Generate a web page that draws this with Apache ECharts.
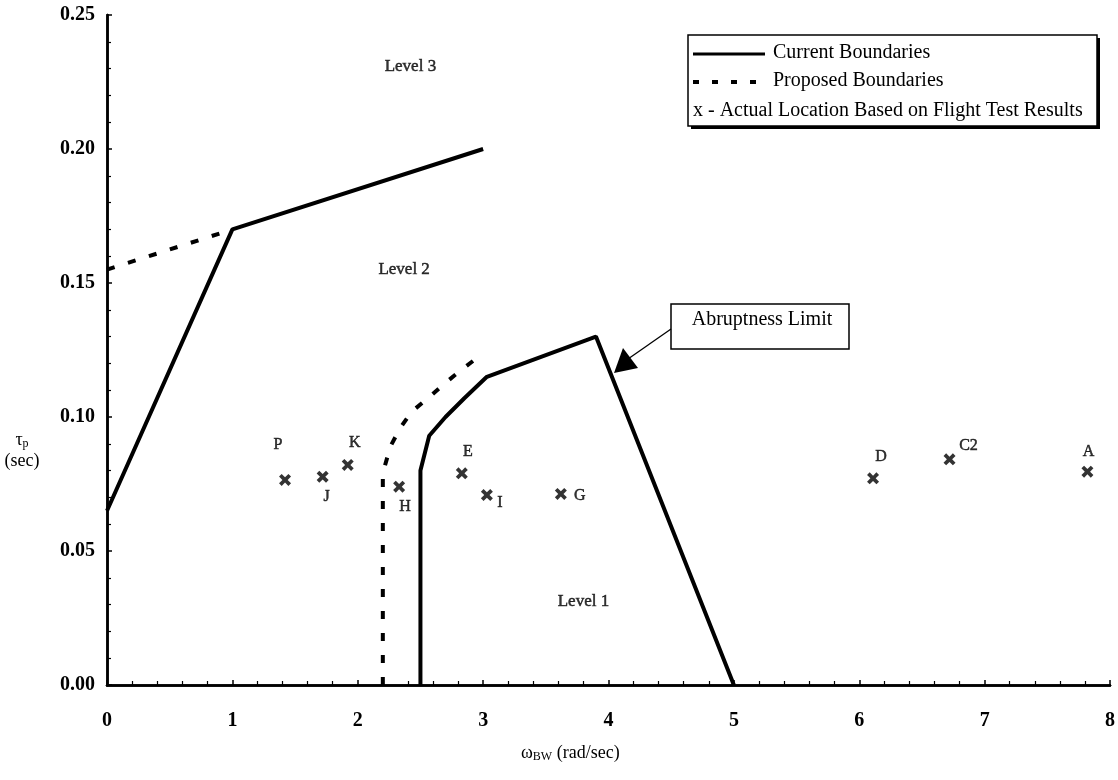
<!DOCTYPE html>
<html><head><meta charset="utf-8">
<script src="https://cdn.jsdelivr.net/npm/echarts@6/dist/echarts.min.js"></script>
<style>html,body{margin:0;padding:0;background:#fff}#c{width:1118px;height:780px}</style>
</head><body><div id="c"></div>
<script>
// ---- data ----
const currentLevel2X = [0, 1, 3.0];
const currentLevel2Y = [0.065, 0.17, 0.20];
const proposedLevel2X = [0, 1];
const proposedLevel2Y = [0.155, 0.17];
const currentLevel1X = [2.5, 2.5, 2.57, 2.7, 2.85, 3.03, 3.9, 5.0];
const currentLevel1Y = [0, 0.08, 0.093, 0.1, 0.107, 0.115, 0.13, 0];
const proposedLevel1X = [2.2, 2.2, 2.26, 2.34, 2.43, 2.56, 2.68, 2.81, 2.95];
const proposedLevel1Y = [0, 0.079, 0.089, 0.096, 0.102, 0.107, 0.112, 0.117, 0.122];
const pointNames = ['P', 'J', 'K', 'H', 'E', 'I', 'G', 'D', 'C2', 'A'];
const pointX = [1.42, 1.72, 1.92, 2.33, 2.83, 3.03, 3.62, 6.11, 6.72, 7.82];
const pointY = [0.0765, 0.0777, 0.0821, 0.074, 0.079, 0.0709, 0.0713, 0.0771, 0.0842, 0.0796];
const regionNames = ['Level 3', 'Level 2', 'Level 1'];
const regionX = [2.42, 2.37, 3.8];
const regionY = [0.2306, 0.1549, 0.031];
const xMin = 0, xMax = 8, xStep = 1;
const yMin = 0, yMax = 0.25, yStep = 0.05;
const legendTexts = ['Current Boundaries', 'Proposed Boundaries', 'x - Actual Location Based on Flight Test Results'];
const calloutText = 'Abruptness Limit';

// ---- styling (label offsets in px) ----
const labelOffset = {P: [-7, -35], J: [4, 20], K: [7, -22], H: [6, 20], E: [6, -21], I: [13, 8], G: [19, 2], D: [8, -22], C2: [19, -14], A: [1, -20]};
const SERIF = "'Liberation Serif','Times New Roman',serif";
const zip = (xs, ys) => xs.map((x, i) => [x, ys[i]]);
const xMark = 'path://M0,2.2 L2.2,0 L5,2.8 L7.8,0 L10,2.2 L7.2,5 L10,7.8 L7.8,10 L5,7.2 L2.2,10 L0,7.8 L2.8,5 Z';

const lineBase = (name, data, dashed) => ({
  name, type: 'line', data, symbol: 'none', silent: true, animation: false,
  lineStyle: {color: '#000', width: 4, type: dashed ? [8, 14] : 'solid', cap: 'butt'}
});
const txtLabel = {color: '#000', fontFamily: SERIF, textBorderColor: '#000', textBorderWidth: 0.5, textShadowBlur: 0};

const chart = echarts.init(document.getElementById('c'), null, {renderer: 'canvas'});
const axisCommon = {
  axisLine: {show: true, lineStyle: {color: '#000', width: 2.5}},
  splitLine: {show: false}
};
chart.setOption({
  backgroundColor: '#fff',
  animation: false,
  grid: {left: 107, right: 8, top: 15, bottom: 95, containLabel: false},
  xAxis: [
    Object.assign({
      type: 'value', min: xMin, max: xMax, interval: xStep,
      axisTick: {show: true, inside: true, length: 5, lineStyle: {color: '#000', width: 1.5}},
      minorTick: {show: true, splitNumber: 5, length: 4, lineStyle: {color: '#000', width: 1.2}},
      axisLabel: {color: '#000', fontFamily: SERIF, fontSize: 20, fontWeight: 'bold', margin: 26}
    }, axisCommon),
    Object.assign({
      type: 'value', min: xMin, max: xMax, position: 'top',
      axisTick: {show: false}, axisLabel: {show: false}
    }, axisCommon)
  ],
  yAxis: [
    Object.assign({
      type: 'value', min: yMin, max: yMax, interval: yStep,
      axisTick: {show: true, inside: true, length: 5, lineStyle: {color: '#000', width: 1.5}},
      minorTick: {show: true, splitNumber: 5, length: 4, lineStyle: {color: '#000', width: 1.2}},
      axisLabel: {color: '#000', fontFamily: SERIF, fontSize: 20, fontWeight: 'bold', margin: 12,
        formatter: v => v.toFixed(2)}
    }, axisCommon),
    Object.assign({
      type: 'value', min: yMin, max: yMax, position: 'right',
      axisTick: {show: false}, axisLabel: {show: false}
    }, axisCommon)
  ],
  series: [
    lineBase('Current L2', zip(currentLevel2X, currentLevel2Y), false),
    lineBase('Proposed L2', zip(proposedLevel2X, proposedLevel2Y), true),
    lineBase('Current L1', zip(currentLevel1X, currentLevel1Y), false),
    lineBase('Proposed L1', zip(proposedLevel1X, proposedLevel1Y), true),
    {
      type: 'scatter', symbol: xMark, symbolSize: 12, silent: true,
      itemStyle: {color: '#000'},
      label: Object.assign({show: true, position: 'inside', fontSize: 16, formatter: p => p.name}, txtLabel),
      data: pointNames.map((n, i) => ({name: n, value: [pointX[i], pointY[i]],
        label: {offset: labelOffset[n]}}))
    },
    {
      type: 'scatter', symbolSize: 0, silent: true, itemStyle: {color: '#fff'},
      label: Object.assign({show: true, position: 'inside', fontSize: 17, formatter: p => p.name}, txtLabel),
      data: regionNames.map((n, i) => ({name: n, value: [regionX[i], regionY[i]]}))
    }
  ],
  graphic: [
    // legend box with shadow
    {type: 'rect', shape: {x: 691, y: 38, width: 409, height: 91}, style: {fill: '#000'}, z: 10},
    {type: 'rect', shape: {x: 688, y: 35, width: 409, height: 91}, style: {fill: '#fff', stroke: '#000', lineWidth: 1.5}, z: 11},
    {type: 'line', shape: {x1: 693, y1: 54, x2: 765, y2: 54}, style: {stroke: '#000', lineWidth: 3}, z: 12},
    {type: 'line', shape: {x1: 693, y1: 82, x2: 765, y2: 82}, style: {stroke: '#000', lineWidth: 4, lineDash: [6, 13]}, z: 12},
    {type: 'text', x: 773, y: 53, style: {text: legendTexts[0], font: '20px ' + SERIF, fill: '#000', textVerticalAlign: 'middle'}, z: 12},
    {type: 'text', x: 773, y: 81, style: {text: legendTexts[1], font: '20px ' + SERIF, fill: '#000', textVerticalAlign: 'middle'}, z: 12},
    {type: 'text', x: 693, y: 111, style: {text: legendTexts[2], font: '20px ' + SERIF, fill: '#000', textVerticalAlign: 'middle'}, z: 12},
    // callout
    {type: 'rect', shape: {x: 671, y: 304, width: 178, height: 45}, style: {fill: '#fff', stroke: '#000', lineWidth: 1.5}, z: 10},
    {type: 'text', x: 762, y: 320, style: {text: calloutText, font: '20px ' + SERIF, fill: '#000', textAlign: 'center', textVerticalAlign: 'middle'}, z: 11},
    {type: 'line', shape: {x1: 671, y1: 329, x2: 628, y2: 359}, style: {stroke: '#000', lineWidth: 1.3}, z: 10},
    {type: 'polygon', shape: {points: [[614, 373], [623, 348], [638, 368]]}, style: {fill: '#000'}, z: 10},
    // axis names
    {type: 'text', x: 22, y: 440, style: {rich: {a: {font: '18px ' + SERIF, fill: '#000'}, s: {font: '12px ' + SERIF, fill: '#000', padding: [8, 0, 0, 0]}}, text: '{a|τ}{s|p}', textAlign: 'center', textVerticalAlign: 'middle'}},
    {type: 'text', x: 22, y: 461, style: {text: '(sec)', font: '18px ' + SERIF, fill: '#000', textAlign: 'center', textVerticalAlign: 'middle'}},
    {type: 'text', x: 521, y: 753, style: {rich: {a: {font: '18px ' + SERIF, fill: '#000'}, s: {font: '12px ' + SERIF, fill: '#000', padding: [8, 0, 0, 0]}}, text: '{a|ω}{s|BW}{a| (rad/sec)}', textVerticalAlign: 'middle'}}
  ]
});
</script>
</body></html>
